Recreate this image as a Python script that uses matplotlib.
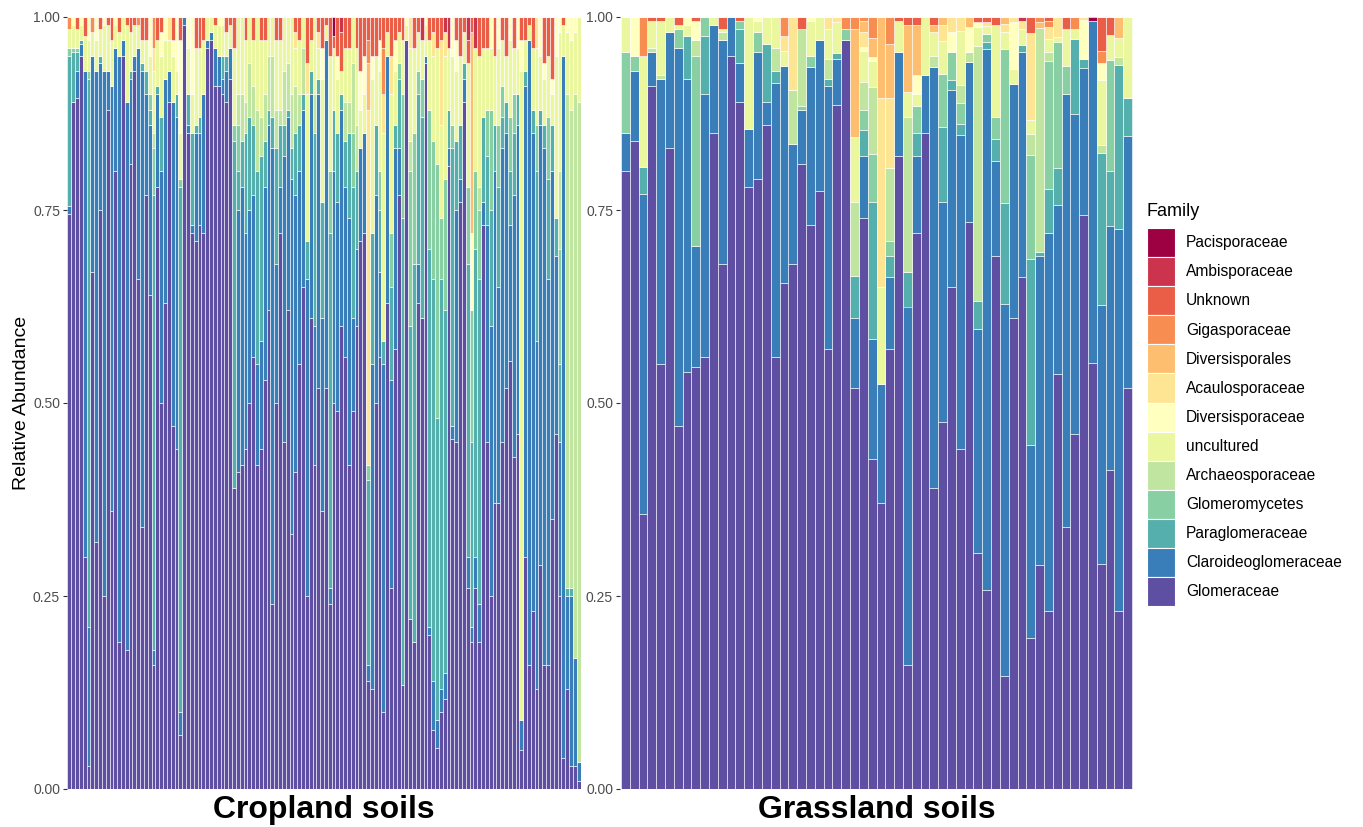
import numpy as np
import matplotlib
matplotlib.use("Agg")
import matplotlib.pyplot as plt
from matplotlib.patches import Patch

plt.rcParams['font.family'] = ['Liberation Sans', 'DejaVu Sans']

# stacking order, bottom -> top
families = ["Glomeraceae", "Claroideoglomeraceae", "Paraglomeraceae", "Glomeromycetes",
            "Archaeosporaceae", "uncultured", "Diversisporaceae", "Acaulosporaceae",
            "Diversisporales", "Gigasporaceae", "Unknown", "Ambisporaceae", "Pacisporaceae"]
colors = ["#5E4FA2", "#397EB8", "#55AFAD", "#88CFA4", "#BFE5A0", "#EAF79E", "#FFFFBF",
          "#FEE594", "#FDBF6F", "#F88D52", "#EA5D47", "#CC344D", "#9E0142"]

# ---------------- Cropland soils (134 samples), percent ----------------
n_crop = 134
crop_glomeraceae = [
    74.5, 89, 89.5, 95, 30, 3, 67, 32, 75, 25,
    88, 36, 80, 19, 95, 18, 81, 93, 66, 34,
    77, 64, 16, 78, 50, 63, 89, 47, 44, 7,
    99, 85, 72, 71, 73, 72, 96, 97, 91, 91,
    90, 89, 92, 39, 41, 42, 44, 50, 56, 42,
    44, 53, 62, 24, 50, 72, 45, 62, 33, 41,
    55, 65, 25, 61, 42, 52, 36, 52, 24, 50,
    49, 60, 56, 42, 49, 60, 71, 72, 14, 13,
    50, 56, 10, 63, 26, 57, 77, 13.5, 97, 22,
    19, 63, 61, 94, 20, 7.6, 5.3, 10, 11.6, 80.7,
    45.3, 45, 76, 89, 26, 19, 26, 19, 73, 45,
    25, 37, 37, 45, 52, 55.5, 43, 46, 5, 30,
    16, 23, 13, 29, 16, 16, 35, 46, 25, 4,
    13, 3, 3, 1]
crop_claroideo = [
    1, 0, 3.5, 1.5, 63, 18, 28, 61, 19, 68,
    5, 55, 16, 76, 2, 71, 11, 2, 30, 59,
    13, 22, 2, 12, 30, 29, 4, 42, 43, 3,
    1, 1, 1, 14, 12, 18, 1, 1, 5, 4,
    2, 4, 4, 0, 34, 36, 28, 25, 21, 13,
    14, 25, 24, 59, 18, 6, 37, 25, 46, 36,
    25, 23, 41, 29, 18, 38, 25, 45, 2, 30,
    27, 28, 22, 32, 12, 10, 12, 13, 2, 42,
    27, 11, 45, 32, 27, 26, 6, 0, 0, 0,
    0, 5, 0, 1, 1, 6.4, 3.7, 3, 3.4, 2.3,
    1.7, 30, 3, 3, 4, 2, 4, 5, 3, 28,
    35, 43, 28, 38, 33, 17.5, 34, 40, 4, 61,
    81, 62, 45, 57, 67, 50, 45, 23, 20, 91,
    12, 22, 14, 2.5]
crop_paraglom = [
    19.5, 6.5, 2.5, 0.5, 0, 71, 0, 0, 1, 0,
    0, 0, 0, 0, 0, 0, 1, 0, 0, 1,
    3, 2, 59, 1, 7, 0, 0, 0, 3, 68,
    0, 4, 12, 1, 2, 0, 0, 0, 0, 0,
    3, 2, 0, 45, 5, 6, 13, 12, 9, 25,
    24, 6, 2, 4, 15, 8, 4, 1, 4, 8,
    6, 2, 5, 3, 25, 2, 15, 0, 46, 8,
    9, 2, 6, 11, 17, 10, 0, 0, 24, 17,
    9, 8, 3, 0, 12, 3, 9, 60.5, 0, 38,
    49, 22, 26, 0, 49, 52, 39, 53, 47, 5,
    36, 9, 7, 2, 38, 24, 40, 42, 11, 9,
    15, 6, 13, 4, 4, 7, 8, 4, 0, 2,
    0, 3, 22, 2, 3, 13, 6, 5, 10, 0,
    1, 1, 0, 0]
crop_uncultured = [
    2.5, 3, 2.5, 2, 4.5, 4, 3, 4, 3.5, 6,
    6, 6, 3, 3, 3, 10, 5, 4, 3, 3,
    4, 5, 8, 6, 8, 5, 4, 6, 3, 6,
    0, 6, 5, 10, 9, 7, 3, 2, 3, 4,
    4, 3, 3, 10, 10, 10, 8, 6, 6, 12,
    10, 7, 5, 5, 9, 9, 7, 6, 10, 5,
    7, 4, 19, 4, 10, 4, 16, 2, 15, 8,
    7, 3, 7, 7, 6, 10, 5, 5, 0, 20,
    9, 13, 27, 3, 18, 7, 4, 7, 2, 12,
    11, 5, 5, 4, 9, 11, 15, 12, 16, 8,
    9, 9, 9, 4, 16, 0, 16, 17, 9, 8,
    8, 9, 10, 6, 6, 10, 6, 6, 84, 4,
    2, 8, 10, 7, 6, 8, 4, 21, 18, 4,
    8, 9, 8, 11]
crop_diversisporaceae = [
    0, 1, 0, 1, 0, 3, 0, 3, 0, 1,
    0, 0, 1, 0, 0, 0, 0, 0, 0, 0,
    0, 5, 0, 0, 3, 3, 0, 2, 7, 12,
    0, 4, 10, 0, 0, 0, 0, 0, 0, 1,
    1, 0, 0, 0, 0, 0, 0, 0, 0, 0,
    0, 0, 0, 0, 0, 0, 0, 0, 0, 0,
    0, 0, 0, 0, 0, 0, 4, 0, 0, 0,
    3, 0, 0, 0, 0, 0, 5, 5, 0, 3,
    0, 4, 0, 0, 0, 4, 0, 0, 1, 0,
    0, 0, 0, 1, 0, 0, 0, 0, 0, 0,
    5, 4, 0, 0, 0, 10, 0, 0, 0, 0,
    4, 0, 4, 0, 0, 3, 0, 4, 4, 0,
    0, 0, 0, 5, 2, 0, 2, 5, 2, 0,
    2, 3, 2, 0]
crop_unknown = [
    0, 0, 1.5, 0, 2.5, 0, 0, 0, 1.5, 0,
    1, 3, 0, 2, 0, 1, 2, 1, 0, 3,
    3, 0, 0, 3, 2, 0, 0, 3, 0, 3,
    0, 0, 0, 4, 4, 3, 0, 0, 1, 0,
    0, 2, 1, 4, 0, 0, 3, 0, 3, 0,
    3, 3, 0, 0, 3, 3, 0, 0, 0, 2,
    3, 0, 6, 3, 0, 2, 4, 1, 5, 1.5,
    5, 5, 4, 4, 0, 4, 7, 5, 3, 5,
    5, 3, 4, 2, 5, 3, 2, 3, 0, 0,
    4, 2, 0, 0, 3, 2, 4, 3, 0, 0,
    0, 3, 5, 2, 3, 2, 0, 5, 4, 4,
    0, 5, 0, 3, 5, 0, 4, 0, 3, 3,
    1, 4, 0, 0, 6, 5, 8, 0, 0, 1,
    0, 0, 0, 0]
# sparse families: {sample number: percent}
crop_glomeromycetes = {1: 1, 2: 0.5, 3: 0.5, 6: 1, 22: 2, 23: 6, 30: 1, 44: 2, 45: 6, 69: 8,
                       75: 7, 79: 2, 82: 5, 85: 7, 87: 2, 88: 16, 90: 20, 91: 17, 92: 3, 93: 5,
                       95: 18, 96: 18, 97: 33, 98: 8, 99: 17, 101: 3, 105: 10, 106: 17, 107: 10,
                       108: 9, 110: 6, 111: 13, 113: 8, 114: 4, 116: 7, 117: 5, 123: 6, 126: 8,
                       129: 15}
crop_archaeo = {23: 2, 45: 4, 46: 6, 47: 4, 48: 7, 49: 5, 50: 8, 51: 5, 52: 6, 53: 7, 54: 8,
                55: 5, 56: 2, 57: 7, 58: 6, 59: 7, 60: 6, 61: 4, 62: 6, 65: 5, 73: 5, 74: 4,
                75: 9, 76: 6, 90: 4, 108: 3, 129: 10, 131: 64, 132: 62, 133: 73, 134: 85.5}
crop_acaulo = {23: 3, 27: 3, 60: 2, 63: 4, 66: 2, 79: 46, 83: 5, 85: 5, 90: 4, 96: 3,
               98: 11, 99: 3, 123: 4}
crop_diversisporales = {79: 6, 106: 26}
crop_gigaspor = {1: 1.5, 7: 2, 19: 1, 23: 4, 79: 3, 83: 6}
crop_ambispor = {72: 2, 93: 3, 99: 2, 100: 4, 105: 3, 107: 4}
crop_pacispor = {70: 2.5}

# ---------------- Grassland soils (58 samples), percent ----------------
n_grass = 58
grass_glomeraceae = [
    80, 84, 35.6, 91, 55, 83, 47, 54, 54.6, 56,
    85, 68, 95, 89, 78, 79, 86, 56, 65.6, 68,
    81, 73, 77.5, 57, 88.6, 97, 52, 74, 42.7, 37,
    57, 82, 16, 72, 85, 39, 47.6, 65, 44, 73.4,
    30.6, 25.8, 69, 14.6, 61, 66.7, 19.6, 29, 23, 53.7,
    34, 46, 74.3, 55.2, 29, 41.3, 23, 52]
grass_claroideo = [
    5, 9, 41.5, 4.5, 37, 15, 49, 38, 15.6, 34,
    14, 29, 5, 5, 7.5, 16.5, 3, 35.5, 28, 15.5,
    7, 20.5, 19.5, 34, 6, 0, 9, 8, 15.6, 15.5,
    9.3, 13.5, 46.5, 10, 7.5, 54.5, 28.4, 25.5, 40.7, 20.8,
    29, 70, 12.4, 48.2, 30.3, 29.2, 25, 40, 49, 22,
    56, 41.5, 19.1, 44.3, 33.5, 31.6, 49.6, 32.6]
grass_paraglom = [
    0, 0, 3.5, 0, 0, 0, 0, 5.5, 0, 7.5,
    0, 0, 0, 4.5, 0, 0, 7.5, 1.5, 0, 0,
    0, 0, 0, 1, 0.7, 0, 5.5, 3.3, 17.7, 0,
    2.7, 0, 4.5, 3, 0, 0, 9.8, 1.3, 1.5, 0,
    3.6, 1, 2.8, 13.1, 0, 1, 24, 0.5, 5.7, 4.7,
    0, 9.7, 1.2, 0, 19.7, 7.1, 21.2, 4.9]
grass_glomeromycetes = [
    10.5, 2, 0, 0, 0, 0, 2.5, 0, 24.6, 2.5,
    0, 0, 0, 1, 0, 2.5, 0, 0, 0, 0,
    0.5, 1.5, 0, 0, 0, 1.5, 0, 2.7, 6.3, 0,
    2, 0, 0, 3.5, 0, 0, 6.8, 3.7, 2.6, 0,
    0, 1, 2.8, 20, 0, 0, 13.5, 0, 16.6, 16.4,
    3.6, 0, 0, 0, 0, 14.4, 0, 0]
grass_archaeo = [
    0, 0, 0, 0.5, 0.5, 0, 0, 0, 2, 0,
    0, 1, 0, 0, 0, 0, 0, 3, 0, 7,
    10, 0, 0, 2.5, 0, 0, 9.5, 3.6, 8.6, 0,
    9.5, 0, 20, 0, 0, 1.5, 0, 0, 2.4, 1.3,
    33, 0, 0, 0, 0, 0, 2.8, 29.1, 1.2, 0,
    0, 0, 0, 0, 1, 0, 1, 0]
grass_uncultured = [
    4.5, 0, 14.5, 3.5, 7, 2, 0.5, 1.5, 0, 0,
    1, 0.5, 0, 0, 14.5, 1.5, 3.5, 4, 2, 0,
    0, 4.5, 3, 4, 4, 0, 8.5, 4, 3.4, 12.5,
    0, 4, 3.3, 1.5, 7.5, 3, 4.3, 0, 7, 0,
    2.5, 1, 12, 2.2, 2, 2, 1.7, 0, 1.7, 0.6,
    4.8, 1.2, 0, 0, 8.4, 3.3, 2.5, 10.5]
grass_diversisporaceae = [
    0, 5, 0, 0, 0, 0, 0, 1, 2.5, 0,
    0, 0, 0, 0, 0, 0.5, 0, 0, 0, 0,
    0, 0.5, 0, 0, 0, 0, 0, 0.5, 0.5, 0,
    0, 0, 0, 2.5, 0, 0, 0, 2.5, 0, 3.2,
    0.7, 0, 0, 0, 6, 0, 0, 0, 0, 0,
    0, 0, 5, 0, 2.2, 0, 0, 0]
grass_acaulo = [
    0, 0, 0, 0, 0, 0, 0, 0, 0, 0,
    0, 0, 0, 0, 0, 0, 0, 0, 2, 9.5,
    0, 0, 0, 1.5, 0.7, 0, 0, 1.9, 0, 24.5,
    9, 0, 0, 0, 0, 0, 2, 2, 1.8, 0,
    0, 0.6, 0, 1, 0.7, 1.1, 11.3, 0, 1.5, 2.6,
    0, 0, 0.4, 0, 0, 0, 0, 0]
grass_diversisporales = [
    0, 0, 0, 0, 0, 0, 0, 0, 0, 0,
    0, 0, 0, 0, 0, 0, 0, 0, 0, 0,
    0, 0, 0, 0, 0, 0, 14, 1.5, 2.5, 10.5,
    7, 0, 8.7, 6.5, 0, 1, 1.1, 0, 0, 1.3,
    0, 0, 0, 0.9, 0, 0, 0, 0.7, 0, 0,
    0, 0, 0, 0, 0, 0, 2.7, 0]
grass_gigaspor = [
    0, 0, 5, 0, 0, 0, 0, 0, 0, 0,
    0, 0, 0, 0, 0, 0, 0, 0, 2.4, 0,
    0, 0, 0, 0, 0, 1.5, 1.5, 0.5, 2.7, 0,
    3.5, 0, 0, 0, 0, 0, 0, 0, 0, 0,
    0, 0, 0, 0, 0, 0, 0, 0.7, 0.8, 0,
    0, 1.6, 0, 0, 1.5, 0, 0, 0]
grass_unknown = [
    0, 0, 0, 0.5, 0.5, 0, 1, 0, 0.5, 0,
    0, 1.5, 0, 0.5, 0, 0, 0, 0, 0, 0,
    1.5, 0, 0, 0, 0, 0, 0, 0, 0, 0,
    0, 0.5, 1, 1, 0, 1, 0, 0, 0, 0,
    0.6, 0.6, 1, 0, 0, 0, 2.1, 0, 0.5, 0,
    1.6, 0, 0, 0, 4.4, 2.3, 0, 0]
grass_ambispor = {46: 0.5}
grass_pacispor = {54: 0.5}


def from_sparse(d, n):
    arr = np.zeros(n)
    for k, v in d.items():
        arr[k - 1] = v
    return arr


crop = [crop_glomeraceae, crop_claroideo, crop_paraglom, from_sparse(crop_glomeromycetes, n_crop),
        from_sparse(crop_archaeo, n_crop), crop_uncultured, crop_diversisporaceae,
        from_sparse(crop_acaulo, n_crop), from_sparse(crop_diversisporales, n_crop),
        from_sparse(crop_gigaspor, n_crop), crop_unknown, from_sparse(crop_ambispor, n_crop),
        from_sparse(crop_pacispor, n_crop)]
grass = [grass_glomeraceae, grass_claroideo, grass_paraglom, grass_glomeromycetes,
         grass_archaeo, grass_uncultured, grass_diversisporaceae, grass_acaulo,
         grass_diversisporales, grass_gigaspor, grass_unknown,
         from_sparse(grass_ambispor, n_grass), from_sparse(grass_pacispor, n_grass)]


def draw(ax, table, n, title):
    table = np.array([np.asarray(v, dtype=float) for v in table])
    table = table / table.sum(axis=0)  # relative abundance per sample
    x = np.arange(n)
    bottom = np.zeros(n)
    for vals, col in zip(table, colors):
        ax.bar(x, vals, bottom=bottom, width=1.0, color=col,
               edgecolor="white", linewidth=0.4)
        bottom += vals
    ax.set_xlim(-0.6, n - 0.4)
    ax.set_ylim(0, 1)
    ax.set_yticks([0, 0.25, 0.5, 0.75, 1.0])
    ax.set_yticklabels(["0.00", "0.25", "0.50", "0.75", "1.00"])
    ax.set_xticks([])
    for s in ax.spines.values():
        s.set_visible(False)
    ax.tick_params(axis="y", length=3, width=0.8, color="#333333",
                   labelsize=10, labelcolor="#4D4D4D", pad=2)
    ax.set_xlabel(title, fontsize=23, fontweight="bold", labelpad=4)


W, H = 1363, 827
fig = plt.figure(figsize=(W / 100, H / 100), dpi=100)
ax1 = fig.add_axes([67 / W, 38 / H, 514 / W, 772 / H])
ax2 = fig.add_axes([620 / W, 38 / H, 513 / W, 772 / H])

draw(ax1, crop, n_crop, "Cropland soils")
draw(ax2, grass, n_grass, "Grassland soils")
ax1.set_ylabel("Relative Abundance", fontsize=14, labelpad=2)

# legend: Pacisporaceae on top, Glomeraceae at the bottom
handles = [Patch(facecolor=c, edgecolor="white", linewidth=0.8, label=f)
           for f, c in zip(families[::-1], colors[::-1])]
fig.text(1147 / W, 1 - 212 / H, "Family", fontsize=13, va="center", ha="left")
fig.legend(handles=handles, loc="upper left", bbox_to_anchor=(1147 / W, 1 - 228 / H),
           frameon=False, fontsize=11.2, handlelength=1.8, handleheight=2.5,
           labelspacing=0.0, handletextpad=0.7, borderpad=0, borderaxespad=0)

fig.savefig("out.png", dpi=100)
